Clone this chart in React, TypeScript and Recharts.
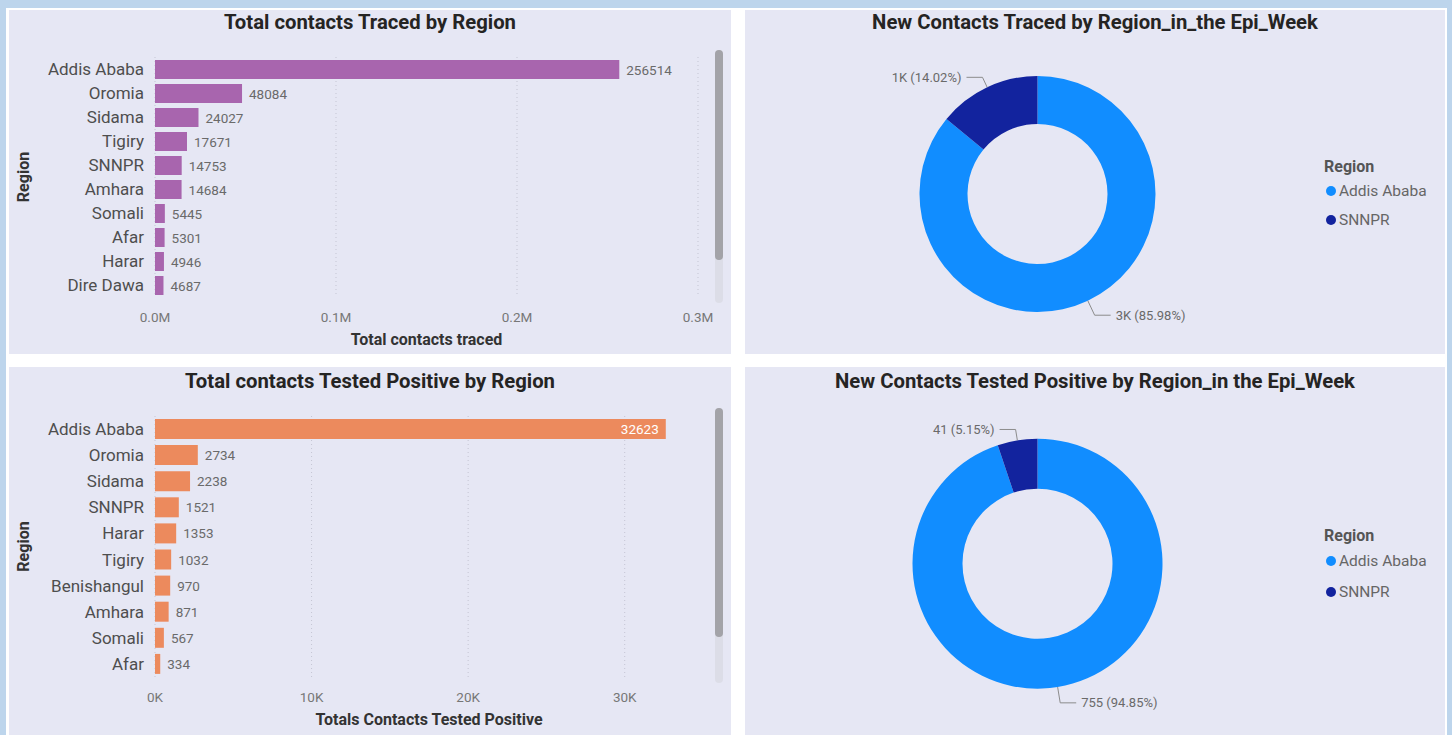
import React from 'react';
import {
  BarChart,
  Bar,
  XAxis,
  YAxis,
  CartesianGrid,
  LabelList,
  PieChart,
  Pie,
  Cell,
  Legend,
} from 'recharts';

// cumulative totals per region
const tracedRegions = ['Addis Ababa', 'Oromia', 'Sidama', 'Tigiry', 'SNNPR', 'Amhara', 'Somali', 'Afar', 'Harar', 'Dire Dawa'];
const tracedTotals = [256514, 48084, 24027, 17671, 14753, 14684, 5445, 5301, 4946, 4687];
const tracedTicks = [0, 100000, 200000, 300000];

const positiveRegions = ['Addis Ababa', 'Oromia', 'Sidama', 'SNNPR', 'Harar', 'Tigiry', 'Benishangul', 'Amhara', 'Somali', 'Afar'];
const positiveTotals = [32623, 2734, 2238, 1521, 1353, 1032, 970, 871, 567, 334];
const positiveTicks = [0, 10000, 20000, 30000];

// epi week numbers
const weekRegions = ['Addis Ababa', 'SNNPR'];
const weekTraced = [3188, 520];
const weekPositive = [755, 41];

const FONT = "Roboto, 'Noto Sans', sans-serif";
const PANEL_BG = '#e6e7f4';
const regionColors = ['#118dff', '#12239e'];

const tracedData = tracedRegions.map((region, i) => ({ region, total: tracedTotals[i] }));
const positiveData = positiveRegions.map((region, i) => ({ region, total: positiveTotals[i] }));
const weekTracedData = weekRegions.map((name, i) => ({ name, value: weekTraced[i] }));
const weekPositiveData = weekRegions.map((name, i) => ({ name, value: weekPositive[i] }));

const fmtM = (v: number) => `${(v / 1e6).toFixed(1)}M`;
const fmtK = (v: number) => `${Math.round(v / 1000)}K`;
// one display unit for the whole visual, like Power BI does
const unitFormatter = (values: number[]) =>
  Math.max(...values) >= 1000 ? fmtK : (v: number) => `${v}`;

function Panel({ left, top, width, height, title, titleTop = 0, children }: any) {
  return (
    <div style={{ position: 'absolute', left, top, width, height, background: PANEL_BG }}>
      <div
        style={{
          position: 'absolute',
          left: 0,
          right: 0,
          top: titleTop,
          lineHeight: '24px',
          textAlign: 'center',
          fontWeight: 700,
          fontSize: 20.3,
          color: '#252423',
        }}
      >
        {title}
      </div>
      {children}
    </div>
  );
}

function Scrollbar({ left, top, thumb, track }: { left: number; top: number; thumb: number; track: number }) {
  return (
    <>
      <div style={{ position: 'absolute', left, top, width: 8, height: track, borderRadius: 4, background: '#dcdde7' }} />
      <div style={{ position: 'absolute', left, top, width: 8, height: thumb, borderRadius: 4, background: '#a3a3a8' }} />
    </>
  );
}

function XTitle({ viewBox, text }: any) {
  const vb = viewBox || {};
  return (
    <text
      x={vb.x + vb.width / 2}
      y={vb.y + 42}
      textAnchor="middle"
      dominantBaseline="central"
      fontSize={16}
      fontWeight={700}
      fill="#333"
    >
      {text}
    </text>
  );
}

function YTitle({ viewBox, text }: any) {
  const vb = viewBox || {};
  const x = 14;
  const y = vb.y + vb.height / 2;
  return (
    <text
      x={x}
      y={y}
      transform={`rotate(-90, ${x}, ${y})`}
      textAnchor="middle"
      dominantBaseline="central"
      fontSize={16}
      fontWeight={700}
      fill="#333"
    >
      {text}
    </text>
  );
}

// value goes outside the bar unless it would run past the plot edge
const makeValueLabel = (plotRight: number) => (props: any) => {
  const vb = props.viewBox || {};
  const x = props.x ?? vb.x;
  const y = props.y ?? vb.y;
  const width = props.width ?? vb.width;
  const height = props.height ?? vb.height;
  const text = String(props.value);
  const outside = x + width + 7 + text.length * 7.4 <= plotRight;
  return (
    <text
      x={outside ? x + width + 7 : x + width - 7}
      y={y + height / 2}
      textAnchor={outside ? 'start' : 'end'}
      dominantBaseline="central"
      fontSize={13.5}
      fill={outside ? '#6a6a6a' : '#ffffff'}
    >
      {text}
    </text>
  );
};

const RAD = Math.PI / 180;
const makeDonutLabel = (fmt: (v: number) => string) => (props: any) => {
  const { cx, cy, midAngle, outerRadius, value, percent } = props;
  const cos = Math.cos(-midAngle * RAD);
  const sin = Math.sin(-midAngle * RAD);
  const ext = sin > 0 ? 16 : 11;
  const sx = cx + outerRadius * cos;
  const sy = cy + outerRadius * sin;
  const mx = cx + (outerRadius + ext) * cos;
  const my = cy + (outerRadius + ext) * sin;
  const dir = cos >= 0 ? 1 : -1;
  const ex = mx + dir * 16;
  return (
    <g>
      <polyline points={`${sx},${sy} ${mx},${my} ${ex},${my}`} fill="none" stroke="#8c8c8c" strokeWidth={1} />
      <text
        x={ex + dir * 5}
        y={my}
        textAnchor={dir > 0 ? 'start' : 'end'}
        dominantBaseline="central"
        fontSize={13}
        fill="#6a6a6a"
      >
        {`${fmt(value)} (${(percent * 100).toFixed(2)}%)`}
      </text>
    </g>
  );
};

function RegionLegend({ payload, rowHeight }: any) {
  const items = payload && payload.length ? payload : weekRegions.map((r, i) => ({ value: r, color: regionColors[i] }));
  return (
    <div style={{ fontFamily: FONT }}>
      <div style={{ fontWeight: 700, fontSize: 16, lineHeight: '19px', color: '#555' }}>Region</div>
      {items.map((p: any, i: number) => (
        <div key={p.value} style={{ display: 'flex', alignItems: 'center', height: rowHeight, fontSize: 15.5, color: '#666' }}>
          <span
            style={{
              display: 'inline-block',
              width: 10,
              height: 10,
              borderRadius: '50%',
              marginLeft: 2,
              marginRight: 3,
              background: regionColors[i] ?? p.color,
            }}
          />
          {p.value}
        </div>
      ))}
    </div>
  );
}

function RegionBars({ data, ticks, domain, fmt, color, height, top, right, axisHeight, barSize, xTitle }: any) {
  const plotRight = 722 - right;
  return (
    <BarChart
      width={722}
      height={height}
      layout="vertical"
      data={data}
      margin={{ top, right, bottom: 0, left: 0 }}
      barSize={barSize}
    >
      <CartesianGrid horizontal={false} syncWithTicks stroke="#c4c5d3" strokeDasharray="1 3" />
      <XAxis
        type="number"
        domain={domain}
        ticks={ticks}
        tickFormatter={fmt}
        axisLine={false}
        tickLine={false}
        tickMargin={9}
        height={axisHeight}
        tick={{ fontSize: 13.5, fill: '#777' }}
        label={<XTitle text={xTitle} />}
      />
      <YAxis
        type="category"
        dataKey="region"
        width={146}
        interval={0}
        axisLine={false}
        tickLine={false}
        tickMargin={5}
        tick={{ fontSize: 17, fill: '#4e4e4e' }}
        label={<YTitle text="Region" />}
      />
      <Bar dataKey="total" fill={color} isAnimationActive={false}>
        <LabelList dataKey="total" content={makeValueLabel(plotRight)} />
      </Bar>
    </BarChart>
  );
}

function Donut({ data, height, cy, inner, outer, legendTop, rowHeight }: any) {
  const fmt = unitFormatter(data.map((d: any) => d.value));
  return (
    <PieChart width={700} height={height} margin={{ top: 0, right: 0, bottom: 0, left: 0 }}>
      <Pie
        data={data}
        dataKey="value"
        nameKey="name"
        cx={292.5}
        cy={cy}
        innerRadius={inner}
        outerRadius={outer}
        startAngle={90}
        endAngle={-270}
        stroke="none"
        label={makeDonutLabel(fmt)}
        labelLine={false}
        isAnimationActive={false}
      >
        {data.map((d: any, i: number) => (
          <Cell key={d.name} fill={regionColors[i]} />
        ))}
      </Pie>
      <Legend
        layout="vertical"
        align="right"
        verticalAlign="middle"
        wrapperStyle={{ left: 579, top: legendTop }}
        content={(p: any) => <RegionLegend payload={p.payload} rowHeight={rowHeight} />}
      />
    </PieChart>
  );
}

export default function App() {
  return (
    <div
      style={{
        position: 'absolute',
        left: 0,
        top: 0,
        width: 1452,
        height: 735,
        overflow: 'hidden',
        background: '#bdd5ec',
        fontFamily: FONT,
      }}
    >
      <div style={{ position: 'absolute', left: 6, top: 8, width: 1441, height: 727, background: '#ffffff' }} />

      <Panel left={9} top={10} width={722} height={344} title="Total contacts Traced by Region">
        <RegionBars
          data={tracedData}
          ticks={tracedTicks}
          domain={[0, 300000]}
          fmt={fmtM}
          color="#a865ae"
          height={344}
          top={47}
          right={33}
          axisHeight={57}
          barSize={19}
          xTitle="Total contacts traced"
        />
        <Scrollbar left={706} top={40} thumb={210} track={253} />
      </Panel>

      <Panel left={745} top={10} width={700} height={344} title="New Contacts Traced by Region_in_the Epi_Week">
        <Donut data={weekTracedData} height={344} cy={184} inner={70} outer={118} legendTop={147} rowHeight={29} />
      </Panel>

      <Panel left={9} top={367} width={722} height={368} title="Total contacts Tested Positive by Region" titleTop={2}>
        <RegionBars
          data={positiveData}
          ticks={positiveTicks}
          domain={[0, 35000]}
          fmt={fmtK}
          color="#ec8a5d"
          height={368}
          top={49}
          right={28}
          axisHeight={58}
          barSize={20}
          xTitle="Totals Contacts Tested Positive"
        />
        <Scrollbar left={706} top={41} thumb={229} track={275} />
      </Panel>

      <Panel left={745} top={367} width={700} height={368} title="New Contacts Tested Positive by Region_in the Epi_Week" titleTop={2}>
        <Donut data={weekPositiveData} height={368} cy={196.7} inner={75} outer={125} legendTop={159} rowHeight={31} />
      </Panel>
    </div>
  );
}
